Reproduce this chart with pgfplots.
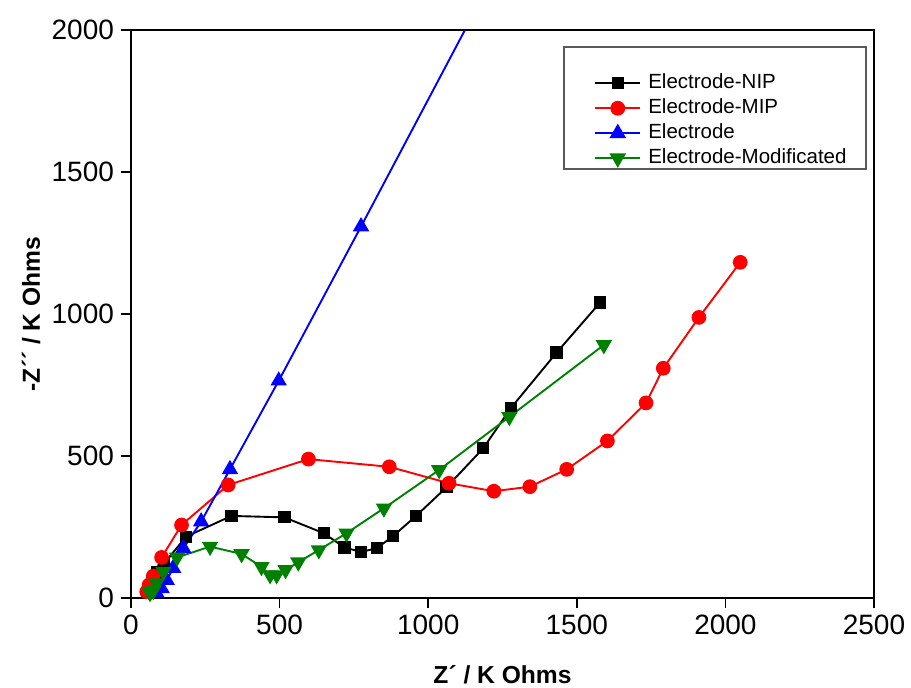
\documentclass[border=0pt]{standalone}
\usepackage{pgfplots}
\pgfplotsset{compat=1.18}
\usepackage{fontspec}
\setmainfont{Liberation Sans}
\definecolor{cgreen}{RGB}{0,128,0}
\begin{document}
\begin{tikzpicture}
\begin{axis}[
  scale only axis,
  width=371.5pt, height=284pt,
  xmin=0, xmax=2500, ymin=0, ymax=2000,
  xtick={0,500,1000,1500,2000,2500},
  ytick={0,500,1000,1500,2000},
  tick pos=left,
  tick align=outside,
  major tick length=5pt,
  axis line style={line width=1pt},
  every tick/.style={line width=0.8pt, black},
  /pgf/number format/assume math mode=true,
  /pgf/number format/1000 sep={},
  tick label style={font=\fontsize{14}{16}\selectfont},
  xlabel={\bfseries Z´ / K Ohms},
  ylabel={\bfseries -Z´´ / K Ohms},
  xlabel style={font=\fontsize{12.3}{14}\selectfont, at={(axis description cs:0.5,-0.1356)}, anchor=center},
  ylabel style={font=\fontsize{12.3}{14}\selectfont, at={(axis description cs:-0.1346,0.5)}, anchor=center},
  legend cell align=left,
  legend style={at={(rel axis cs:0.623,0.929)}, anchor=north west,
    font=\fontsize{10.25}{12}\selectfont, draw=none, fill=none,
    inner xsep=0pt, inner ysep=0pt, row sep=0pt,
    nodes={text height=8.5pt, text depth=3pt, inner ysep=0.5pt, inner xsep=3.5pt}},
  legend image code/.code={\draw[line width=1pt, mark repeat=2,mark phase=2] plot coordinates {(0pt,0pt)(11.25pt,0pt)(22.5pt,0pt)};},
  every axis plot/.append style={line width=0.95pt},
]
\addplot[black, mark=square*, mark size=2.6pt, mark options={solid}] coordinates {
(53,18) (62,35) (72,60) (88,90) (112,122) (185,216) (338,289) (516,284) (649,228) (718,178) (775,162) (828,176) (882,218) (958,288) (1062,390) (1185,527) (1279,670) (1432,864) (1579,1041)
};
\addlegendentry{Electrode-NIP}
\addplot[red, mark=*, mark size=3.2pt, mark options={solid}] coordinates {
(53,22) (61,46) (75,77) (103,143) (170,257) (327,398) (597,489) (869,462) (1070,404) (1221,376) (1342,392) (1466,453) (1603,553) (1733,687) (1791,809) (1911,988) (2050,1182)
};
\addlegendentry{Electrode-MIP}
\addplot[blue, mark=triangle*, mark size=3.8pt, mark options={solid}] coordinates {
(86,18) (103,34) (120,63) (142,105) (176,175) (236,269) (333,453) (497,765) (774,1308) (1250,2250)
};
\addlegendentry{Electrode}
\addplot[cgreen, mark=triangle*, mark size=3.8pt, mark options={solid, rotate=180}] coordinates {
(64,18) (75,26) (86,52) (109,93) (155,143) (266,181) (372,155) (439,110) (468,81) (490,81) (520,99) (563,126) (632,169) (725,228) (851,316) (1037,451) (1273,638) (1591,891)
};
\addlegendentry{Electrode-Modificated}
\draw[black!65, line width=0.6pt] (rel axis cs:0.5828,0.7553) rectangle (rel axis cs:0.9892,0.970);
\end{axis}
\pgfresetboundingbox
\path[use as bounding box] ([shift={(-65.5pt,-44.5pt)}]current axis.south west) rectangle ([shift={(18.5pt,15pt)}]current axis.north east);
\end{tikzpicture}
\end{document}
